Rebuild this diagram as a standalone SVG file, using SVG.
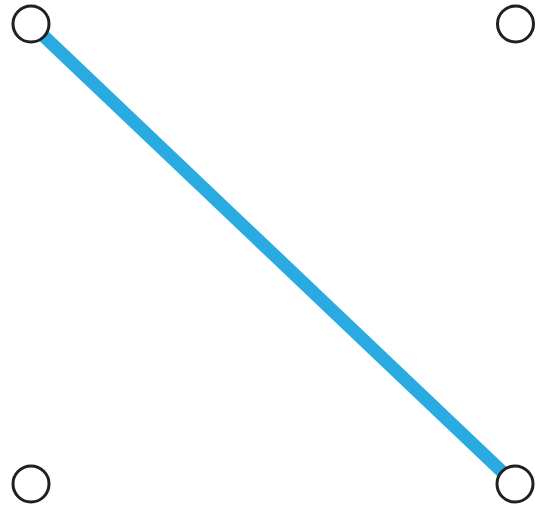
<svg xmlns="http://www.w3.org/2000/svg" width="540" height="506" viewBox="0 0 540 506">
<style>
.node circle{fill:#ffffff;stroke:#231f20;stroke-width:3}
.edge{stroke:#29abe2;stroke-width:13;fill:none}
</style>
<rect width="540" height="506" fill="#ffffff"/>
<g id="connectors">
<line class="edge" x1="31" y1="24" x2="515" y2="484"/>
</g>
<g id="n1" class="node"><circle cx="31" cy="24" r="18"/></g>
<g id="n2" class="node"><circle cx="515.5" cy="24" r="18"/></g>
<g id="n3" class="node"><circle cx="31" cy="484" r="18"/></g>
<g id="n4" class="node"><circle cx="515" cy="484" r="18"/></g>
</svg>
